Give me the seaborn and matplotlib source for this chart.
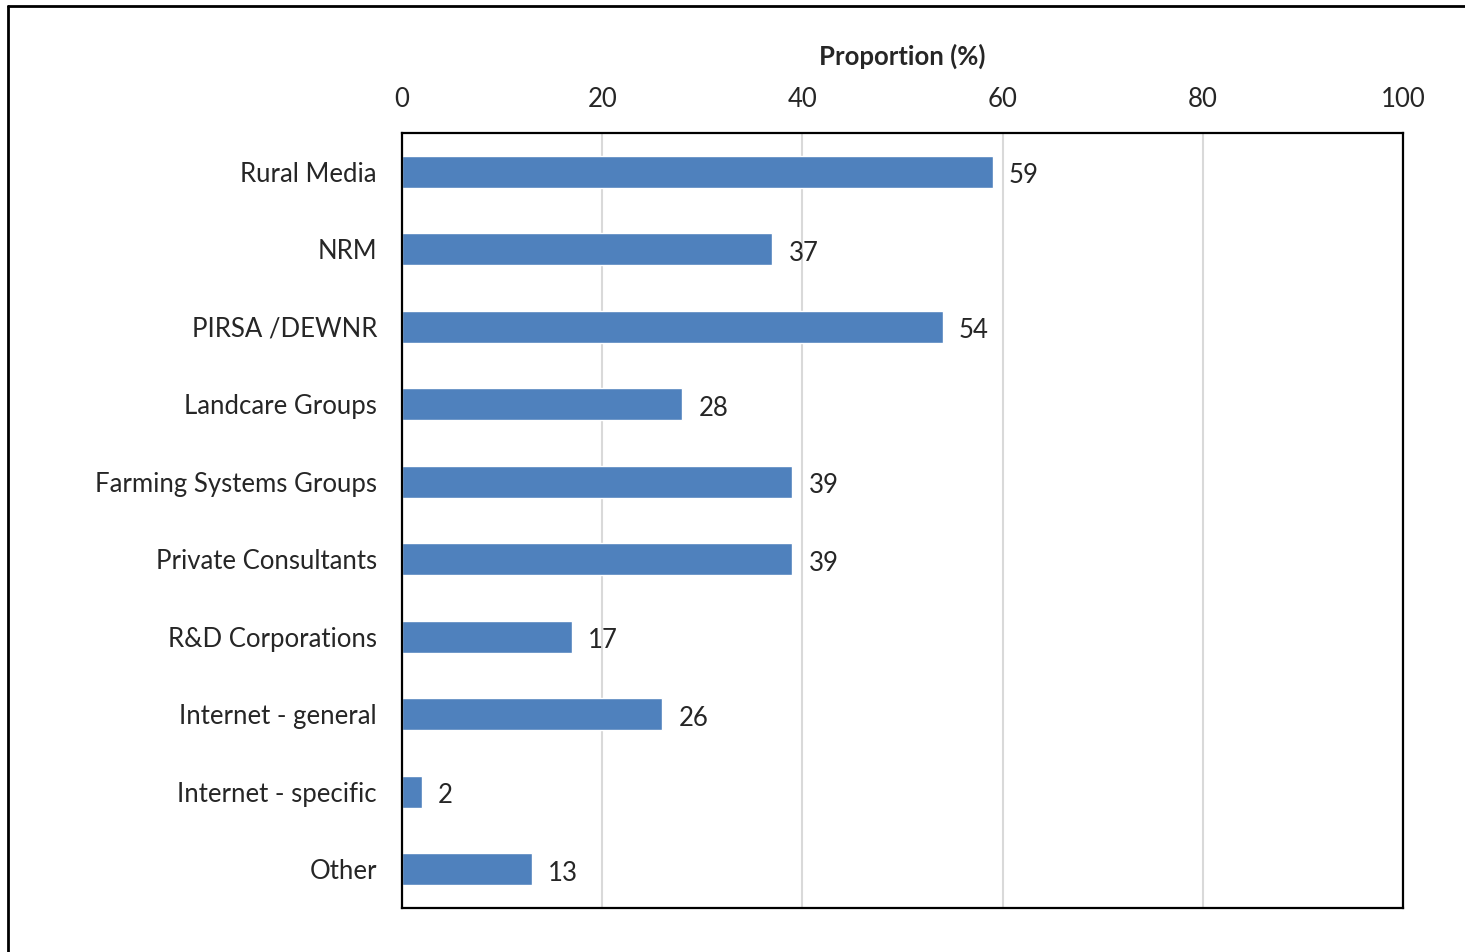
import pandas as pd
import seaborn as sns
import matplotlib.pyplot as plt
from matplotlib.lines import Line2D

sources = ["Rural Media", "NRM", "PIRSA /DEWNR", "Landcare Groups",
           "Farming Systems Groups", "Private Consultants", "R&D Corporations",
           "Internet - general", "Internet - specific", "Other"]
proportion = [59, 37, 54, 28, 39, 39, 17, 26, 2, 13]
x_ticks = [0, 20, 40, 60, 80, 100]

df = pd.DataFrame({"source": sources, "proportion": proportion})

sns.set_style("white")
plt.rcParams["font.family"] = ["Lato", "DejaVu Sans"]

fig = plt.figure(figsize=(14.65, 9.52), dpi=100)
ax = fig.add_axes([0.2744, 0.0462, 0.9577 - 0.2744, 0.8603 - 0.0462])

sns.barplot(data=df, x="proportion", y="source", color="#4F81BD",
            saturation=1, width=0.41, ax=ax, zorder=3)

ax.set_xlim(0, 100)
ax.set_xticks(x_ticks)
ax.xaxis.tick_top()
ax.xaxis.set_label_position("top")
ax.tick_params(axis="x", length=0, labelsize=18.5, pad=15)
ax.tick_params(axis="y", length=0, labelsize=18.5, pad=18)
ax.set_xlabel("Proportion (%)", fontsize=18.5, fontweight="bold", labelpad=16)
ax.set_ylabel("")
ax.grid(axis="x", color="#D9D9D9", linewidth=1.5, zorder=0)

for s in ax.spines.values():
    s.set_color("black")
    s.set_linewidth(1.6)
    s.set_zorder(4)

for i, v in enumerate(proportion):
    ax.text(v + 1.6, i + 0.05, str(v), va="center", ha="left", fontsize=18.5)

# outer chart frame (runs off the right and bottom edges)
fig.add_artist(Line2D([8 / 1465, 1.0], [1 - 6 / 952, 1 - 6 / 952],
                      transform=fig.transFigure, color="black", linewidth=2))
fig.add_artist(Line2D([8 / 1465, 8 / 1465], [0.0, 1 - 6 / 952],
                      transform=fig.transFigure, color="black", linewidth=2))

fig.savefig("out.png", dpi=100)
